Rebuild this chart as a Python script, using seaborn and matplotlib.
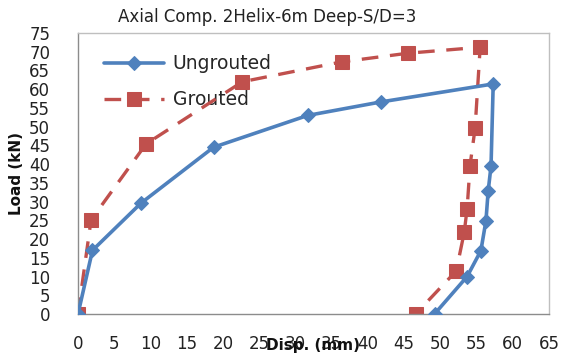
import matplotlib
matplotlib.use("Agg")
import matplotlib.pyplot as plt
import seaborn as sns
import pandas as pd

# Data
ungrouted_disp = [0, 2.0, 8.7, 18.7, 31.7, 41.8, 57.3, 57.0, 56.6, 56.3, 55.6, 53.7, 49.2]
ungrouted_load = [0, 17.0, 29.6, 44.5, 53.0, 56.6, 61.4, 39.5, 32.7, 24.9, 16.9, 10.0, 0]
grouted_disp = [0, 1.8, 9.4, 22.7, 36.4, 45.5, 55.5, 54.8, 54.1, 53.7, 53.3, 52.2, 46.6]
grouted_load = [0, 25.1, 45.4, 62.0, 67.3, 69.6, 71.2, 49.6, 39.6, 28.1, 21.8, 11.5, 0]

title = "Axial Comp. 2Helix-6m Deep-S/D=3"
xlabel = "Disp. (mm)"
ylabel = "Load (kN)"
xticks = list(range(0, 66, 5))
yticks = list(range(0, 76, 5))

blue = "#4F81BD"
red = "#C0504D"

df_u = pd.DataFrame({"disp": ungrouted_disp, "load": ungrouted_load})
df_g = pd.DataFrame({"disp": grouted_disp, "load": grouted_load})

sns.set_style("white")
plt.rcParams["font.family"] = ["DejaVu Sans"]

fig = plt.figure(figsize=(5.68, 3.54), dpi=100)
ax = fig.add_axes([78 / 568, 1 - 314 / 354, (549 - 78) / 568, (314 - 33) / 354])

sns.lineplot(data=df_u, x="disp", y="load", sort=False, estimator=None, ax=ax,
             color=blue, linewidth=2.6, marker="D", markersize=7.5,
             markeredgecolor=blue, markerfacecolor=blue, label="Ungrouted", zorder=3)
sns.lineplot(data=df_g, x="disp", y="load", sort=False, estimator=None, ax=ax,
             color=red, linewidth=2.4, marker="s", markersize=10.5,
             markeredgecolor=red, markerfacecolor=red, label="Grouted", zorder=2)
ax.lines[-1].set_dashes([5, 3.5])

ax.set_xlim(0, 65)
ax.set_ylim(0, 75)
ax.set_xticks(xticks)
ax.set_yticks(yticks)
ax.tick_params(axis="both", which="both", direction="out", length=5, width=1,
               color="#8C8C8C", labelsize=12, labelcolor="#222222")
ax.tick_params(axis="x", pad=10)
ax.tick_params(axis="y", pad=15)
ax.margins(0)
for a in ax.get_xticklabels() + ax.get_yticklabels():
    a.set_clip_on(False)

for side in ["top", "right"]:
    ax.spines[side].set_color("#BFBFBF")
    ax.spines[side].set_linewidth(1.0)
for side in ["left", "bottom"]:
    ax.spines[side].set_color("#8C8C8C")
    ax.spines[side].set_linewidth(1.0)

ax.set_xlabel(xlabel, fontsize=11, fontweight="bold", color="#111111")
ax.set_ylabel(ylabel, fontsize=11, fontweight="bold", color="#111111")
ax.xaxis.set_label_coords(0.5, -0.085)
ax.yaxis.set_label_coords(-0.115, 0.5)

fig.text(267 / 568, 1 - 17 / 354, title, ha="center", va="center",
         fontsize=12, color="#222222")

leg = ax.legend(loc="upper left", bbox_to_anchor=(0.032, 0.964),
                fontsize=13.5, frameon=True, fancybox=False, framealpha=0,
                edgecolor="#BFBFBF", handlelength=3.2, labelspacing=0.9,
                borderpad=0.6, handletextpad=0.45, borderaxespad=0)
leg.get_frame().set_linewidth(1.0)
leg.set_zorder(1)

fig.savefig("out.png", dpi=100)
